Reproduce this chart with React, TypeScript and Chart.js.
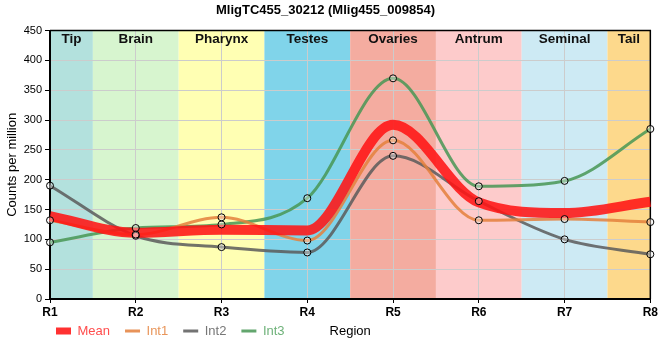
import React, { useEffect, useRef } from 'react';
import { Chart, registerables } from 'chart.js';

Chart.register(...registerables);

const TITLE = 'MligTC455_30212 (Mlig455_009854)';
const Y_TITLE = 'Counts per million';
const X_TITLE = 'Region';

const categories = ['R1', 'R2', 'R3', 'R4', 'R5', 'R6', 'R7', 'R8'];
const regionNames = ['Tip', 'Brain', 'Pharynx', 'Testes', 'Ovaries', 'Antrum', 'Seminal', 'Tail'];
const regionColors = ['#b3e1dd', '#d7f5cf', '#ffffb3', '#80d4ea', '#f4aca0', '#fdcbcb', '#cdeaf4', '#fdd98c'];
const yTicks = [0, 50, 100, 150, 200, 250, 300, 350, 400, 450];

const meanValues = [139, 111, 116, 115, 292, 162, 144, 163];
const int1Values = [132, 108, 137, 98, 266, 132, 134, 129];
const int2Values = [190, 106, 87, 78, 240, 164, 100, 75];
const int3Values = [95, 119, 125, 169, 370, 189, 198, 285];

const seriesNames = ['Mean', 'Int1', 'Int2', 'Int3'];
const lineColors = ['rgba(255,20,20,0.88)', 'rgba(228,128,60,0.85)', 'rgba(90,90,90,0.85)', 'rgba(72,150,85,0.85)'];
const legendTextColors = ['#ff4d4d', '#e8955a', '#777777', '#6fb27a'];

const FONT = "'Liberation Sans', Arial, Helvetica, sans-serif";

const bandsPlugin = {
  id: 'bands',
  beforeDraw(chart: any) {
    const { ctx, chartArea } = chart;
    const xs = chart.scales.x;
    ctx.save();
    regionNames.forEach((_, i) => {
      const x0 = Math.max(chartArea.left, xs.getPixelForValue(i - 0.5));
      const x1 = Math.min(chartArea.right, xs.getPixelForValue(i + 0.5));
      ctx.fillStyle = regionColors[i];
      ctx.fillRect(x0, chartArea.top, x1 - x0, chartArea.bottom - chartArea.top);
    });
    ctx.restore();
    if (chart.legend) {
      chart.legend.left = 41;
      chart.legend.top = chartArea.bottom + 10.5;
    }
  },
  beforeDatasetsDraw(chart: any) {
    const { ctx, chartArea } = chart;
    ctx.save();
    ctx.strokeStyle = '#000';
    ctx.lineWidth = 1.5;
    ctx.beginPath();
    ctx.moveTo(chartArea.left, chartArea.top);
    ctx.lineTo(chartArea.right, chartArea.top);
    ctx.lineTo(chartArea.right, chartArea.bottom);
    ctx.stroke();
    ctx.restore();
  },
  afterDraw(chart: any) {
    const { ctx, chartArea } = chart;
    const xs = chart.scales.x;
    ctx.save();
    ctx.fillStyle = '#111';
    ctx.textAlign = 'center';
    ctx.textBaseline = 'middle';
    ctx.font = `bold 13.5px ${FONT}`;
    regionNames.forEach((name, i) => {
      const x0 = Math.max(chartArea.left, xs.getPixelForValue(i - 0.5));
      const x1 = Math.min(chartArea.right, xs.getPixelForValue(i + 0.5));
      ctx.fillText(name, (x0 + x1) / 2, chartArea.top + 9);
    });
    ctx.font = `13px ${FONT}`;
    ctx.fillStyle = '#000';
    ctx.fillText(X_TITLE, (chartArea.left + chartArea.right) / 2, chartArea.bottom + 32);
    ctx.restore();
  },
};

export default function App() {
  const ref = useRef<HTMLCanvasElement | null>(null);

  useEffect(() => {
    document.body.style.margin = '0';
    if (!ref.current) return;
    Chart.defaults.font.family = FONT;
    const valueSets = [meanValues, int1Values, int2Values, int3Values];

    const lineDatasets = valueSets.map((vals, i) => ({
      label: seriesNames[i],
      data: vals,
      borderColor: lineColors[i],
      backgroundColor: lineColors[i],
      borderWidth: i === 0 ? 10 : 3,
      pointRadius: 0,
      cubicInterpolationMode: 'monotone' as const,
      fill: false,
      order: i === 0 ? 1 : 2,
    }));
    const pointDatasets = valueSets.slice(1).map((vals, i) => ({
      label: seriesNames[i + 1] + ' points',
      data: vals,
      showLine: false,
      pointRadius: 3.5,
      pointBorderWidth: 1,
      pointBorderColor: '#000',
      pointBackgroundColor: 'rgba(255,255,255,0.35)',
      borderColor: '#000',
      backgroundColor: 'rgba(255,255,255,0.35)',
      clip: false as any,
      order: 0,
    }));

    const chart = new Chart(ref.current, {
      type: 'line',
      data: { labels: categories, datasets: [...lineDatasets, ...pointDatasets] as any },
      plugins: [bandsPlugin],
      options: {
        responsive: false,
        animation: false,
        events: [],
        layout: { padding: { left: 0, right: 9, top: 0, bottom: 1 } },
        plugins: {
          title: {
            display: true,
            text: TITLE,
            color: '#000',
            font: { size: 13, weight: 'bold' },
            padding: { top: 3, bottom: 12 },
          },
          tooltip: { enabled: false },
          legend: {
            position: 'bottom',
            align: 'start',
            labels: {
              font: { size: 13 },
              usePointStyle: true,
              pointStyleWidth: 15,
              boxWidth: 15,
              boxHeight: 7,
              padding: 15,
              generateLabels: () =>
                seriesNames.map((name, i) => ({
                  text: name,
                  datasetIndex: i,
                  fillStyle: lineColors[i],
                  strokeStyle: lineColors[i],
                  lineWidth: i === 0 ? 0 : 3,
                  pointStyle: i === 0 ? 'rect' : 'line',
                  fontColor: legendTextColors[i],
                  hidden: false,
                })) as any,
            },
          },
        },
        scales: {
          x: {
            type: 'category',
            offset: false,
            grid: { color: '#cccccc', lineWidth: 1, tickColor: '#000', tickLength: 4, offset: false },
            border: { color: '#000', width: 2 },
            ticks: { font: { size: 12, weight: 'bold' }, color: '#000', padding: 2, maxRotation: 0, autoSkip: false },
            afterFit: (s: any) => { s.height = 22; },
          },
          y: {
            min: 0,
            max: 450,
            afterBuildTicks: (s: any) => { s.ticks = yTicks.map((v) => ({ value: v })); },
            ticks: { font: { size: 11 }, color: '#000', padding: 3 },
            grid: { color: '#cccccc', lineWidth: 1, tickColor: '#000', tickLength: 5 },
            border: { color: '#000', width: 2 },
            title: { display: true, text: Y_TITLE, color: '#000', font: { size: 13 }, padding: { top: 5, bottom: 0 } },
            afterFit: (s: any) => { s.width = 50; },
          },
        },
      } as any,
    });
    return () => chart.destroy();
  }, []);

  return (
    <div style={{ width: 660, height: 360 }}>
      <canvas ref={ref} width={660} height={360} style={{ display: 'block' }} />
    </div>
  );
}
